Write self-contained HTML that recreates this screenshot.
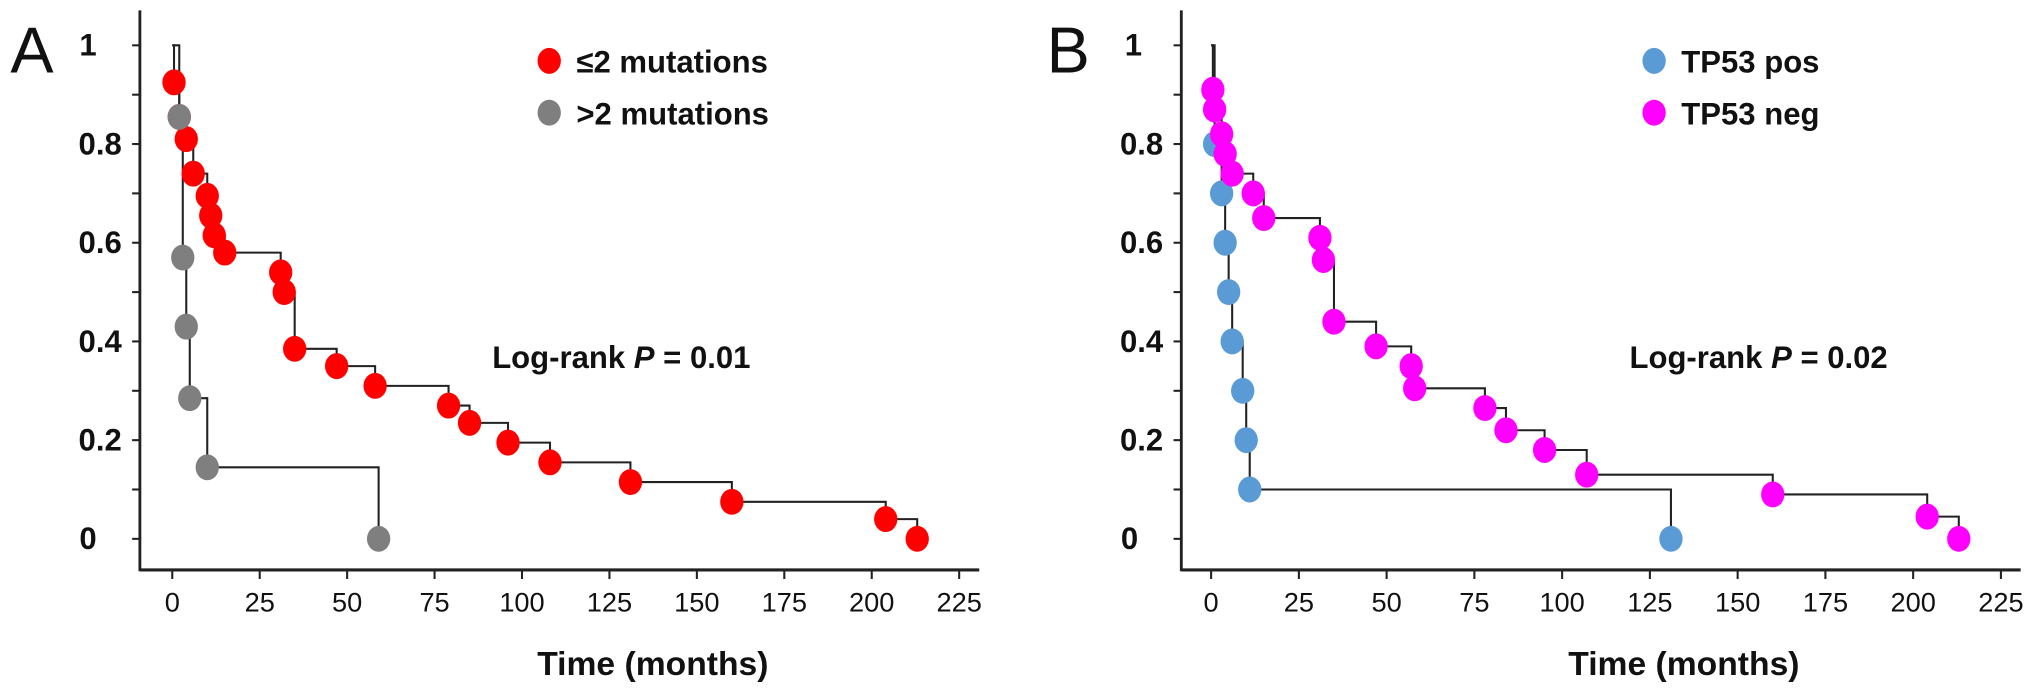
<!DOCTYPE html>
<html><head><meta charset="utf-8"><style>
html,body{margin:0;padding:0;background:#fff}
svg{display:block}
text{font-family:"Liberation Sans",sans-serif}
</style></head><body>
<svg width="2031" height="692" viewBox="0 0 2031 692" xmlns="http://www.w3.org/2000/svg"><g id="fig" transform="scale(1.2953)"></g></svg>
<script>
const xTicks=[0,25,50,75,100,125,150,175,200,225];
const yTicks=[0,0.2,0.4,0.6,0.8,1];
const yTickLabels=['0','0.2','0.4','0.6','0.8','1'];
const aLowTime=[0.5,2,4,6,10,11,12,15,31,32,35,47,58,79,85,96,108,131,160,204,213];
const aLowSurv=[0.925,0.855,0.81,0.74,0.695,0.655,0.615,0.58,0.54,0.5,0.385,0.35,0.31,0.27,0.235,0.195,0.155,0.115,0.075,0.04,0];
const aHighTime=[2,3,4,5,10,59];
const aHighSurv=[0.855,0.57,0.43,0.285,0.145,0];
const bPosTime=[1,3,4,5,6,9,10,11,131];
const bPosSurv=[0.8,0.7,0.6,0.5,0.4,0.3,0.2,0.1,0];
const bNegTime=[0.5,1,3,4,6,12,15,31,32,35,47,57,58,78,84,95,107,160,204,213];
const bNegSurv=[0.91,0.87,0.82,0.78,0.74,0.7,0.65,0.61,0.565,0.44,0.39,0.35,0.305,0.265,0.22,0.18,0.13,0.09,0.045,0];

const NS='http://www.w3.org/2000/svg';
const svg=document.getElementById('fig');
function mk(tag,attrs,parent){const e=document.createElementNS(NS,tag);for(const k in attrs)e.setAttribute(k,attrs[k]);(parent||svg).appendChild(e);return e;}

function panel(cfg){
  const g=mk('g',{});
  
  
  const x0=cfg.x0, xs=cfg.xs;
  const X=t=>x0+t*xs;
  const Y=s=>416-s*381;
  const ax=cfg.axisX;
  const ya=mk('line',{x1:ax,y1:8,x2:ax,y2:441,stroke:'#222','stroke-width':2.2},g);
  
  
  const xa=mk('line',{x1:ax,y1:440,x2:ax+648,y2:440,stroke:'#222','stroke-width':2.5},g);
  
  
  for(let i=0;i<=10;i++){const v=i/10;mk('line',{x1:ax-6,y1:Y(v),x2:ax,y2:Y(v),stroke:'#222','stroke-width':1.6},g);}
  yTicks.forEach((v,i)=>{
    const xx=v===1?cfg.oneX:(v===0?cfg.axisX-40:cfg.axisX-14);
    const t=mk('text',{x:xx,y:Y(v)+8,'font-size':24,'font-weight':'bold','text-anchor':(v===1||v===0?'middle':'end'),fill:'#111'},g);
    t.textContent=yTickLabels[i];
    
    
  });
  xTicks.forEach(v=>{
    mk('line',{x1:X(v),y1:440,x2:X(v),y2:447,stroke:'#222','stroke-width':1.6},g);
    const t=mk('text',{x:X(v),y:472,'font-size':21,'text-anchor':'middle',fill:'#111'},g);
    t.textContent=v;
    
    
  });
  cfg.series.forEach(s=>{
    let d='M'+X(0)+' '+Y(1);
    s.t.forEach((t,i)=>{d+=' H'+X(t)+' V'+Y(s.s[i]);});
    const p=mk('path',{d:d,fill:'none',stroke:'#222','stroke-width':1.6},g);
    
    
  });
  cfg.series.forEach(s=>{
    s.t.forEach((t,i)=>{
      const c=mk('ellipse',{cx:X(t),cy:Y(s.s[i]),rx:9,ry:10,fill:s.color},g);
      
      
    });
  });
  cfg.series.forEach((s,i)=>{
    const c=mk('ellipse',{cx:cfg.legX,cy:47+i*40,rx:9,ry:10,fill:s.color},g);
    
    
    const t=mk('text',{x:cfg.legX+21,y:56+i*40,'font-size':24,'font-weight':'bold',fill:'#111'},g);
    t.textContent=s.label;
    
    
  });
  const lr=mk('text',{x:cfg.lrX,y:284,'font-size':24,'font-weight':'bold',fill:'#111'},g);
  lr.innerHTML='Log-rank <tspan font-style="italic">P</tspan> = '+cfg.p;
  
  
  const xt=mk('text',{x:cfg.titleX,y:521,'font-size':26,'font-weight':'bold','text-anchor':'middle',fill:'#111'},g);
  xt.textContent='Time (months)';
  
  
  const L=mk('text',{x:cfg.letterX,y:56,'font-size':50,fill:'#111'},g);
  L.textContent=cfg.letter;
  
  
}
panel({name:'panel-a',x0:133,xs:2.70,axisX:108,oneX:68,legX:424,lrX:380,p:'0.01',titleX:504,letterX:8,letter:'A',
  series:[{name:'le2-mutations',label:'≤2 mutations',color:'#ff0000',t:aLowTime,s:aLowSurv},
          {name:'gt2-mutations',label:'>2 mutations',color:'#7f7f7f',t:aHighTime,s:aHighSurv}]});
panel({name:'panel-b',x0:935,xs:2.71,axisX:912,oneX:875,legX:1277,lrX:1258,p:'0.02',titleX:1300,letterX:808,letter:'B',
  series:[{name:'tp53-pos',label:'TP53 pos',color:'#5b9bd5',t:bPosTime,s:bPosSurv},
          {name:'tp53-neg',label:'TP53 neg',color:'#ff00ff',t:bNegTime,s:bNegSurv}]});
</script>
</body></html>
